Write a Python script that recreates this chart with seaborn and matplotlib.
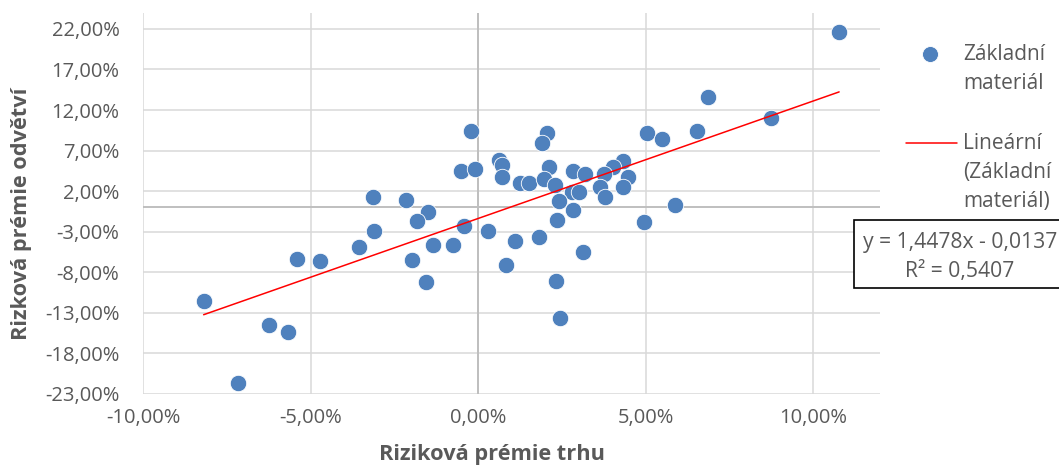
import numpy as np
import pandas as pd
import matplotlib
matplotlib.use("Agg")
import matplotlib.pyplot as plt
import seaborn as sns
from matplotlib.lines import Line2D
from matplotlib.patches import Rectangle
from matplotlib.ticker import FixedLocator, FuncFormatter

# Market risk premium vs. sector risk premium (basic materials), in %
market_premium = [
    10.78, 6.88, 8.75, 6.53, 5.04, 5.49, -0.22, 2.06, 1.91, 0.62,
    0.72, 0.72, -0.50, -0.10, 2.11, 1.26, 1.51, 1.96, 2.31, 2.85,
    3.20, 4.34, 4.04, 3.75, 4.48, 4.33, 3.65, 3.80, 2.81, 3.01,
    2.42, 2.85, 5.88, 2.36, 4.96, -0.41, 0.29, 1.10, 1.81, 0.85,
    3.13, 2.33, 2.46, -0.75, -1.35, -1.97, -1.54, -1.50, -1.82, -2.14,
    -3.12, -3.10, -3.55, -4.73, -5.39, -8.19, -6.25, -5.68, -7.17,
]
sector_premium = [
    21.65, 13.65, 11.00, 9.47, 9.15, 8.45, 9.40, 9.15, 7.91, 5.81,
    5.17, 3.74, 4.48, 4.72, 4.97, 3.04, 3.04, 3.53, 2.73, 4.45,
    4.08, 5.78, 4.94, 4.15, 3.78, 2.51, 2.51, 1.28, 1.93, 1.93,
    0.76, -0.32, 0.27, -1.55, -1.80, -2.25, -2.90, -4.13, -3.64, -7.05,
    -5.54, -9.02, -13.65, -4.59, -4.61, -6.49, -9.18, -0.62, -1.67, 0.95,
    1.28, -2.90, -4.83, -6.56, -6.40, -11.48, -14.51, -15.41, -21.69,
]

# Linear trend line parameters
slope = 1.4478
intercept = -0.0137
r_squared = 0.5407

x_ticks = [-0.10, -0.05, 0.00, 0.05, 0.10]
y_ticks = [-0.23, -0.18, -0.13, -0.08, -0.03, 0.02, 0.07, 0.12, 0.17, 0.22]
x_limits = (-0.10, 0.12)
y_limits = (-0.23, 0.24)

series_name = "Základní\nmateriál"
trend_name = "Lineární\n(Základní\nmateriál)"
x_title = "Riziková prémie trhu"
y_title = "Rizková prémie odvětví"

df = pd.DataFrame({
    "trh": np.array(market_premium) / 100.0,
    "odvetvi": np.array(sector_premium) / 100.0,
})

sns.set_theme(style="white")
plt.rcParams["font.family"] = ["Open Sans", "DejaVu Sans"]

TEXT = "#595959"
BLUE = "#4F81BD"
RED = "#FF0000"

W, H = 1059, 469
fig = plt.figure(figsize=(W / 100, H / 100), dpi=100)
left, right, top, bottom = 143, 880, 12.7, 394
ax = fig.add_axes([left / W, 1 - bottom / H, (right - left) / W, (bottom - top) / H])

sns.scatterplot(data=df, x="trh", y="odvetvi", s=140, color=BLUE,
                edgecolor="white", linewidth=0.6, ax=ax, zorder=4, legend=False)

xs = np.array([df["trh"].min(), df["trh"].max()])
trend = pd.DataFrame({"x": xs, "y": slope * xs + intercept})
sns.lineplot(data=trend, x="x", y="y", color=RED, linewidth=1.1, ax=ax, zorder=5)

ax.set_xlim(*x_limits)
ax.set_ylim(*y_limits)
ax.xaxis.set_major_locator(FixedLocator(x_ticks))
ax.yaxis.set_major_locator(FixedLocator(y_ticks))
pct = FuncFormatter(lambda v, _: f"{v * 100:.2f}%".replace(".", ","))
ax.xaxis.set_major_formatter(pct)
ax.yaxis.set_major_formatter(pct)

ax.grid(True, color="#D9D9D9", linewidth=1.1, zorder=0)
ax.set_axisbelow(True)
for s in ax.spines.values():
    s.set_visible(False)
ax.axhline(0, color="#BFBFBF", linewidth=1.4, zorder=1)
ax.axvline(0, color="#BFBFBF", linewidth=1.4, zorder=1)

ax.tick_params(axis="both", length=0, labelsize=14.5, labelcolor=TEXT)
ax.tick_params(axis="y", pad=17)
ax.tick_params(axis="x", pad=10)
ax.set_xlabel("")
ax.set_ylabel("")

fig.text(492 / W, 1 - 454 / H, x_title, ha="center", va="center",
         fontsize=15.7, fontweight="bold", color=TEXT)
fig.text(22 / W, 1 - 214 / H, y_title, ha="center", va="center", rotation=90,
         fontsize=15.7, fontweight="bold", color=TEXT)

# Legend, drawn entry by entry at the right of the plot
legend_font = 15
fig.add_artist(Line2D([930 / W], [1 - 54 / H], transform=fig.transFigure,
                      marker="o", linestyle="", color=BLUE, markersize=11.5,
                      markeredgecolor="white", markeredgewidth=0.6))
fig.add_artist(Line2D([906 / W, 957 / W], [1 - 143 / H, 1 - 143 / H],
                      transform=fig.transFigure, color=RED, linewidth=1.1))
line_step = 29.5
for label, y0 in ((series_name, 54), (trend_name, 143)):
    for i, line in enumerate(label.split("\n")):
        fig.text(963 / W, 1 - (y0 + i * line_step) / H, line, ha="left",
                 va="center", fontsize=legend_font, color=TEXT)

# Trend-line equation box
fig.patches.append(Rectangle((854 / W, 1 - 288 / H), 220 / W, 68 / H,
                             transform=fig.transFigure, fill=True, facecolor="white",
                             edgecolor="black", linewidth=1.2, zorder=10))
eq = f"y = {slope:.4f}x - {abs(intercept):.4f}".replace(".", ",")
r2 = f"R² = {r_squared:.4f}".replace(".", ",")
fig.text(960 / W, 1 - 242 / H, eq, ha="center", va="center", fontsize=15.2,
         color=TEXT, zorder=11)
fig.text(960 / W, 1 - 272 / H, r2, ha="center", va="center", fontsize=15.2,
         color=TEXT, zorder=11)

fig.savefig("out.png", dpi=100)
